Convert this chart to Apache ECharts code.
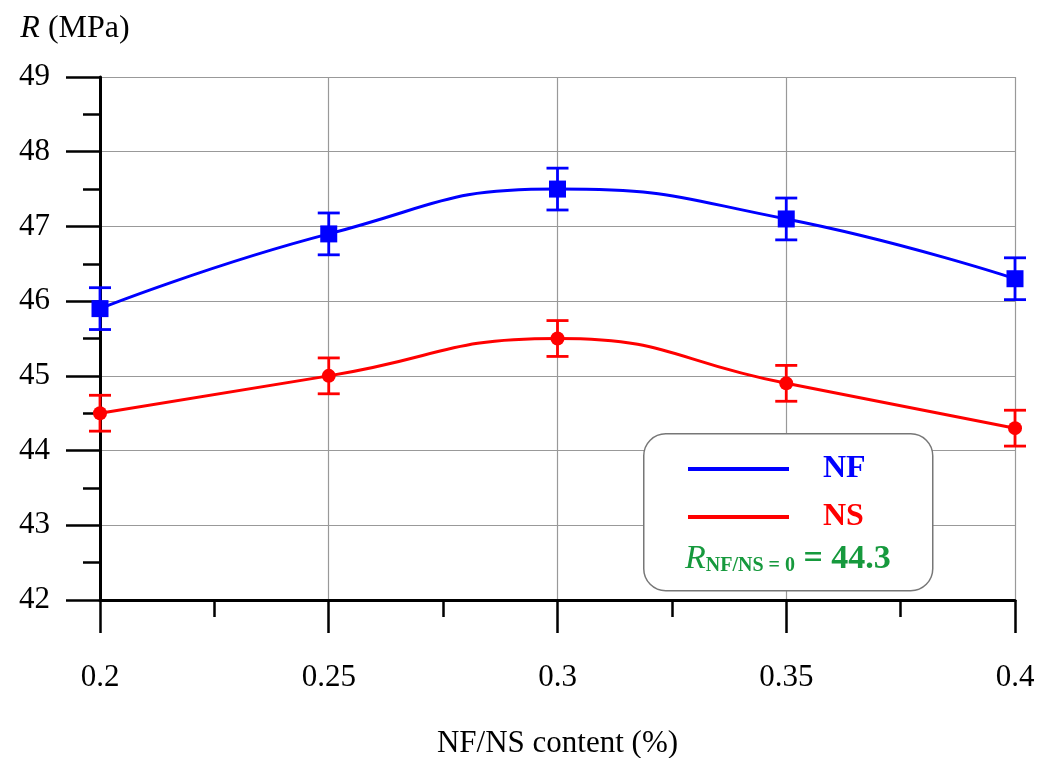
<!DOCTYPE html>
<html><head><meta charset="utf-8">
<script src="https://cdn.jsdelivr.net/npm/echarts@6/dist/echarts.min.js"></script>
<style>html,body{margin:0;padding:0;background:#fff}#c{width:1052px;height:758px}</style>
</head><body><div id="c"></div>
<script>
const contents = [0.2, 0.25, 0.3, 0.35, 0.4];
const nfValues = [45.9, 46.9, 47.5, 47.1, 46.3];
const nsValues = [44.5, 45.0, 45.5, 44.9, 44.3];
const nfErrors = [0.28, 0.28, 0.28, 0.28, 0.28];
const nsErrors = [0.24, 0.24, 0.24, 0.24, 0.24];
const xTickLabels = {0.2: '0.2', 0.25: '0.25', 0.3: '0.3', 0.35: '0.35', 0.4: '0.4'};
const refValue = 44.3;

const FONT = '"Liberation Serif", "DejaVu Serif", serif';
const chart = echarts.init(document.getElementById('c'));

function pairs(vals) { return contents.map((x, i) => [x, vals[i]]); }
function errData(vals, errs) { return contents.map((x, i) => [x, vals[i] - errs[i], vals[i] + errs[i]]); }
function errSeries(vals, errs, color) {
  return {
    type: 'custom', z: 3,
    data: errData(vals, errs),
    encode: {x: 0, y: [1, 2]},
    renderItem: function (params, api) {
      const lo = api.coord([api.value(0), api.value(1)]);
      const hi = api.coord([api.value(0), api.value(2)]);
      const w = 11;
      const st = {stroke: color, lineWidth: 2.8, fill: null};
      return {type: 'group', children: [
        {type: 'line', shape: {x1: lo[0], y1: lo[1], x2: hi[0], y2: hi[1]}, style: st},
        {type: 'line', shape: {x1: lo[0] - w, y1: lo[1], x2: lo[0] + w, y2: lo[1]}, style: st},
        {type: 'line', shape: {x1: hi[0] - w, y1: hi[1], x2: hi[0] + w, y2: hi[1]}, style: st}
      ]};
    }
  };
}

chart.setOption({
  animation: false,
  textStyle: {fontFamily: FONT},
  grid: {left: 100, right: 37, top: 77, bottom: 158, show: false, containLabel: false, outerBoundsMode: 'none'},
  xAxis: {
    type: 'value', min: 0.2, max: 0.4, interval: 0.05,
    name: 'NF/NS content (%)', nameLocation: 'middle', nameGap: 128,
    nameTextStyle: {fontFamily: FONT, fontSize: 31, color: '#000'},
    axisLine: {show: true, onZero: false, lineStyle: {color: '#000', width: 3}},
    axisTick: {show: true, length: 33, lineStyle: {color: '#000', width: 2.5}},
    minorTick: {show: true, splitNumber: 2, length: 17, lineStyle: {color: '#000', width: 2.5}},
    axisLabel: {fontFamily: FONT, fontSize: 31, color: '#000', margin: 62,
      formatter: v => xTickLabels[Math.round(v * 100) / 100] || ''},
    splitLine: {show: true, lineStyle: {color: '#999', width: 1.2}}
  },
  yAxis: {
    type: 'value', min: 42, max: 49, interval: 1,
    name: '{i|R} (MPa)', nameLocation: 'end', nameGap: 32,
    nameTextStyle: {fontFamily: FONT, fontSize: 32, color: '#000', align: 'center', padding: [0, 50, 0, 0],
      rich: {i: {fontFamily: FONT, fontSize: 32, fontStyle: 'italic', color: '#000'}}},
    axisLine: {show: true, onZero: false, lineStyle: {color: '#000', width: 3}},
    axisTick: {show: true, length: 34, lineStyle: {color: '#000', width: 2.5}},
    minorTick: {show: true, splitNumber: 2, length: 17, lineStyle: {color: '#000', width: 2.5}},
    axisLabel: {fontFamily: FONT, fontSize: 31, color: '#000', margin: 50},
    splitLine: {show: true, lineStyle: {color: '#999', width: 1.2}}
  },
  legend: {
    orient: 'vertical', left: 683, top: 447, z: 10,
    icon: 'rect', itemWidth: 101, itemHeight: 4, itemGap: 14,
    data: [
      {name: 'NF', textStyle: {color: '#0000ff'}},
      {name: 'NS', textStyle: {color: '#ff0000'}}
    ],
    textStyle: {fontFamily: FONT, fontSize: 32, fontWeight: 'bold', lineHeight: 34, padding: [0, 0, 0, 29]},
    selectedMode: false
  },
  graphic: [
    {type: 'rect', z: 5, left: 643, top: 433,
      shape: {width: 289, height: 157, r: 22},
      style: {fill: '#fff', stroke: '#777', lineWidth: 1.5}},
    {type: 'text', z: 11, left: 685, top: 542,
      style: {
        text: '{r|R}{s|NF/NS = 0}{b| = ' + refValue + '}',
        rich: {
          r: {fontFamily: FONT, fontSize: 34, fontStyle: 'italic', fill: '#16993d'},
          s: {fontFamily: FONT, fontSize: 20, fontWeight: 'bold', fill: '#16993d', padding: [14, 0, 0, 0]},
          b: {fontFamily: FONT, fontSize: 34, fontWeight: 'bold', fill: '#16993d'}
        }
      }}
  ],
  series: [
    {name: 'NF', type: 'line', smooth: 0.5, data: pairs(nfValues), z: 4,
      symbol: 'rect', symbolSize: 17, showSymbol: true,
      lineStyle: {color: '#0000ff', width: 3}, itemStyle: {color: '#0000ff'}},
    {name: 'NS', type: 'line', smooth: 0.5, data: pairs(nsValues), z: 4,
      symbol: 'circle', symbolSize: 14, showSymbol: true,
      lineStyle: {color: '#ff0000', width: 3}, itemStyle: {color: '#ff0000'}},
    errSeries(nfValues, nfErrors, '#0000ff'),
    errSeries(nsValues, nsErrors, '#ff0000')
  ]
});
</script></body></html>
